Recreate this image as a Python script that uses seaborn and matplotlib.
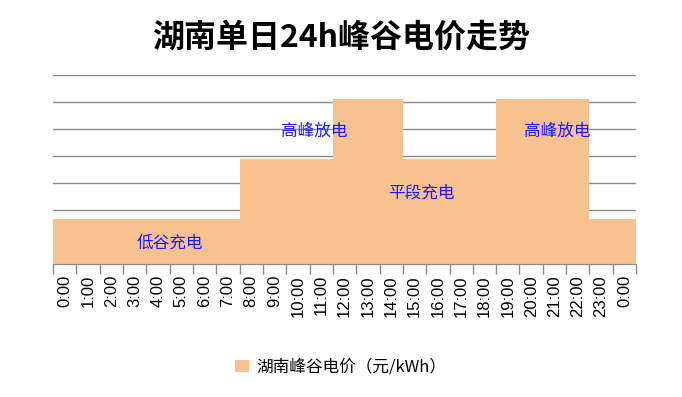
import matplotlib
matplotlib.use("Agg")
import matplotlib.pyplot as plt
import seaborn as sns
import pandas as pd
import numpy as np

# hour labels (last one wraps around to 0:00)
hours = [f"{h}:00" for h in range(24)] + ["0:00"]
# price level per hour (yuan/kWh)
valley, flat, peak = 0.333, 0.778, 1.222
prices = ([valley] * 8 + [flat] * 4 + [peak] * 3 + [flat] * 4 +
          [peak] * 4 + [valley] * 2)

# annotations: (text, x in category units, y in data units)
notes = [("低谷充电", 4.5, 0.156), ("高峰放电", 10.7, 0.98),
         ("平段充电", 15.3, 0.526), ("高峰放电", 21.1, 0.98)]

sns.set_style("white")
plt.rcParams['font.family'] = ['Noto Sans CJK SC', 'DejaVu Sans']
plt.rcParams['text.color'] = 'black'
plt.rcParams['xtick.color'] = 'black'

df = pd.DataFrame({"hour": range(len(hours)), "price": prices})

fig = plt.figure(figsize=(6.82, 3.97), dpi=100)
ax = fig.add_axes([0.0777, 0.335, 0.855, 0.476])

bar_color = "#F8C190"
sns.barplot(data=df, x="hour", y="price", color=bar_color, width=1.0,
            saturation=1, linewidth=0, ax=ax, zorder=2,
            label="湖南峰谷电价（元/kWh）")

ax.set_xlim(-0.5, len(hours) - 0.5)
ax.set_ylim(0, 1.4)
ax.set_yticks(np.arange(0, 1.41, 0.2))
ax.set_yticklabels([])
ax.tick_params(axis="y", length=0)
ax.yaxis.grid(True, color="#8a8a8a", linewidth=1.0, zorder=0)
ax.set_axisbelow(True)

ax.set_xticks(range(len(hours)))
ax.set_xticklabels(hours, rotation=90, fontsize=12, color="black",
                   family="Liberation Sans")
ax.set_xticks(np.arange(-0.5, len(hours), 1), minor=True)
ax.tick_params(axis="x", which="major", bottom=False, length=0, pad=8)
ax.tick_params(axis="x", which="minor", bottom=True, length=7,
               color="#8a8a8a", width=1)
ax.set_xlabel("")
ax.set_ylabel("")

for side in ["top", "right", "left"]:
    ax.spines[side].set_visible(False)
ax.spines["bottom"].set_color("#8a8a8a")

for text, x, y in notes:
    ax.text(x, y, text, color="#1a1aff", fontsize=12, ha="center",
            va="center", zorder=5)

fig.text(0.5, 0.905, "湖南单日24h峰谷电价走势", fontsize=23,
         fontweight="bold", ha="center", va="center", color="black")

leg = ax.legend(loc="center", bbox_to_anchor=(0.5, 0.075),
                bbox_transform=fig.transFigure, frameon=False, fontsize=12,
                handlelength=0.8, handleheight=0.8, handletextpad=0.5)
for t in leg.get_texts():
    t.set_color("black")

fig.savefig("out.png", dpi=100)
